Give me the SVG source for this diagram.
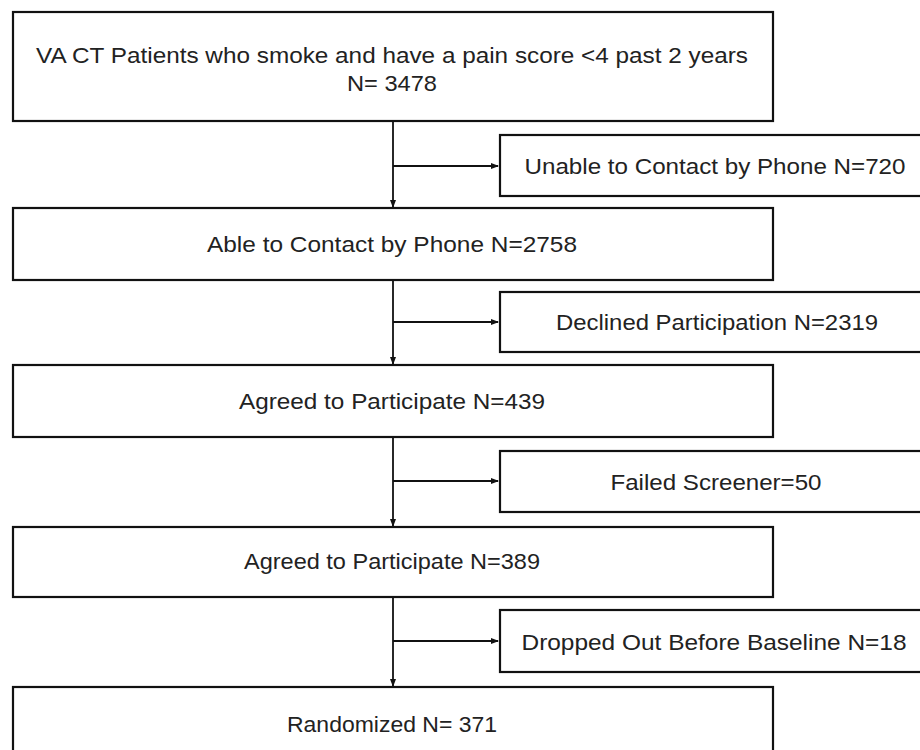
<svg xmlns="http://www.w3.org/2000/svg" width="920" height="750" viewBox="0 0 920 750">
<defs>
<marker id="ah" markerWidth="8" markerHeight="8" refX="7" refY="4" orient="auto" markerUnits="userSpaceOnUse">
<path d="M0,1 L8,4 L0,7 Z" fill="#111"/>
</marker>
<style>
.box{fill:#fff;stroke:#111;stroke-width:2.2}
.t{font-family:"Liberation Sans",Arial,sans-serif;font-size:22.5px;fill:#222;text-anchor:middle}
.c{stroke:#111;stroke-width:1.8;fill:none}
</style>
</defs>
<rect width="920" height="750" fill="#fff"/>
<g id="connectors">
<line class="c" x1="393" y1="121" x2="393" y2="207" marker-end="url(#ah)"/>
<line class="c" x1="393" y1="166" x2="498" y2="166" marker-end="url(#ah)"/>
<line class="c" x1="393" y1="280" x2="393" y2="364" marker-end="url(#ah)"/>
<line class="c" x1="393" y1="322" x2="498" y2="322" marker-end="url(#ah)"/>
<line class="c" x1="393" y1="437" x2="393" y2="526" marker-end="url(#ah)"/>
<line class="c" x1="393" y1="481" x2="498" y2="481" marker-end="url(#ah)"/>
<line class="c" x1="393" y1="597" x2="393" y2="686" marker-end="url(#ah)"/>
<line class="c" x1="393" y1="641" x2="498" y2="641" marker-end="url(#ah)"/>
</g>
<g id="n1">
<rect class="box" x="13" y="12" width="760" height="109"/>
<text class="t" x="392" y="63" textLength="712" lengthAdjust="spacingAndGlyphs">VA CT Patients who smoke and have a pain score &lt;4 past 2 years</text>
<text class="t" x="392" y="91" textLength="90" lengthAdjust="spacingAndGlyphs">N= 3478</text>
</g>
<g id="s1">
<rect class="box" x="500" y="135" width="425" height="61"/>
<text class="t" x="715" y="174" textLength="381" lengthAdjust="spacingAndGlyphs">Unable to Contact by Phone N=720</text>
</g>
<g id="n2">
<rect class="box" x="13" y="208" width="760" height="72"/>
<text class="t" x="392" y="252" textLength="370" lengthAdjust="spacingAndGlyphs">Able to Contact by Phone N=2758</text>
</g>
<g id="s2">
<rect class="box" x="500" y="292" width="425" height="60"/>
<text class="t" x="717" y="330" textLength="322" lengthAdjust="spacingAndGlyphs">Declined Participation N=2319</text>
</g>
<g id="n3">
<rect class="box" x="13" y="365" width="760" height="72"/>
<text class="t" x="392" y="409" textLength="306" lengthAdjust="spacingAndGlyphs">Agreed to Participate N=439</text>
</g>
<g id="s3">
<rect class="box" x="500" y="451" width="425" height="61"/>
<text class="t" x="716" y="490" textLength="211" lengthAdjust="spacingAndGlyphs">Failed Screener=50</text>
</g>
<g id="n4">
<rect class="box" x="13" y="527" width="760" height="70"/>
<text class="t" x="392" y="569" textLength="296" lengthAdjust="spacingAndGlyphs">Agreed to Participate N=389</text>
</g>
<g id="s4">
<rect class="box" x="500" y="610" width="425" height="62"/>
<text class="t" x="714" y="650" textLength="385" lengthAdjust="spacingAndGlyphs">Dropped Out Before Baseline N=18</text>
</g>
<g id="n5">
<rect class="box" x="13" y="687" width="760" height="72"/>
<text class="t" x="392" y="732" textLength="210" lengthAdjust="spacingAndGlyphs">Randomized N= 371</text>
</g>
</svg>
